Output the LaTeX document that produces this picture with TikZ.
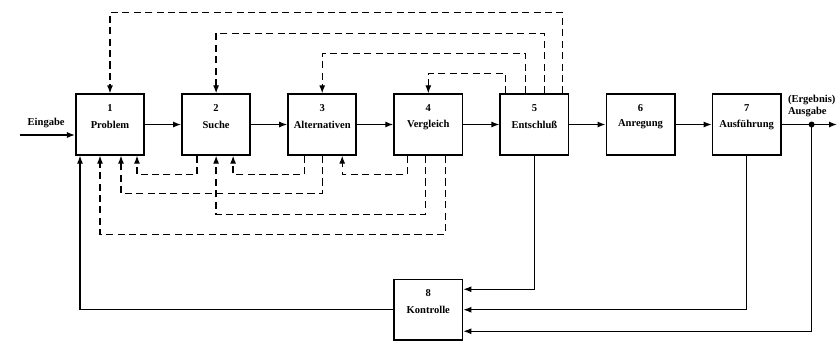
\documentclass[tikz,border=0pt]{standalone}
\usepackage{fontspec}
\setmainfont{Liberation Serif}
\usetikzlibrary{positioning,arrows.meta}

\begin{document}
\begin{tikzpicture}[node distance={7.22mm}, >={Latex[length=1.6mm,width=1.2mm]},
  font=\bfseries\fontsize{6}{7}\selectfont,
  block/.style = {draw, line width=1pt, minimum width=13.65mm, minimum height=12.1mm, inner sep=1pt},
  line/.style = {line width=0.7pt},
  fb/.style = {line width=0.7pt, dash pattern=on 4pt off 2.5pt}]
\useasboundingbox (0,0) rectangle (16.76,-6.8);

\node[block] (n_1) at (2.2,-2.49) {Problem};
\node[block] (n_2) [right=of n_1] {Suche};
\node[block] (n_3) [right=of n_2] {Alternativen};
\node[block] (n_4) [right=of n_3] {Vergleich};
\node[block] (n_5) [right=of n_4] {Entschlu\ss};
\node[block] (n_6) [right=of n_5] {Anregung};
\node[block] (n_7) [right=of n_6] {Ausf\"uhrung};
\node[block] (n_8) [below=24.6mm of n_4] {Kontrolle};
\foreach \i in {1,...,8}
  \node[inner sep=0pt] (z_\i) [below=2.1mm of n_\i.north] {\i};

% Eingang und Ausgang
\coordinate (ein) at ([xshift=-11mm,yshift=-2.1mm]n_1.west);
\draw[line,->] (ein) -- (ein -| n_1.west);
\node[anchor=west] (eingabe) at ([xshift=0.3mm,yshift=2.4mm]ein) {Eingabe};
\coordinate (knoten) at ([xshift=6mm]n_7.east);
\coordinate (aus) at (16.74,0 |- n_7.east);
\draw[line,->] (n_7) -- (aus);
\fill (knoten) circle (0.6mm);
\node[anchor=west, align=left, inner sep=0pt] (ausgabe) at ([xshift=1.2mm,yshift=3.7mm]n_7.east) {(Ergebnis)\\Ausgabe};

% Hauptkette
\draw[line,->] (n_1) -- (n_2);
\draw[line,->] (n_2) -- (n_3);
\draw[line,->] (n_3) -- (n_4);
\draw[line,->] (n_4) -- (n_5);
\draw[line,->] (n_5) -- (n_6);
\draw[line,->] (n_6) -- (n_7);

% Rueckkopplung oben
\draw[fb,->] ([xshift=12.6mm]n_5.north west) -- ++(0,16.2mm) -| (n_1.north);
\draw[fb,->] ([xshift=9mm]n_5.north west) -- ++(0,12mm) -| (n_2.north);
\draw[fb,->] ([xshift=5.2mm]n_5.north west) -- ++(0,8mm) -| (n_3.north);
\draw[fb,->] ([xshift=1.2mm]n_5.north west) -- ++(0,4mm) -| (n_4.north);

% Rueckkopplung unten
\draw[fb,->] ([xshift=3.2mm]n_2.south west) -- ++(0,-3.8mm) -| ([xshift=12.4mm]n_1.south west);
\draw[fb,->] ([xshift=3.4mm]n_3.south west) -- ++(0,-3.8mm) -| ([xshift=10.4mm]n_2.south west);
\draw[fb,->] ([xshift=2.8mm]n_4.south west) -- ++(0,-3.8mm) -| ([xshift=11mm]n_3.south west);
\draw[fb,->] ([xshift=7mm]n_3.south west) -- ++(0,-7.6mm) -| ([xshift=9.2mm]n_1.south west);
\draw[fb,->] ([xshift=6.4mm]n_4.south west) -- ++(0,-11.8mm) -| (n_2.south);
\draw[fb,->] ([xshift=10.4mm]n_4.south west) -- ++(0,-15.8mm) -| ([xshift=5mm]n_1.south west);

% Kontrolle
\draw[line,->] (n_5.south) |- ([yshift=4.1mm]n_8.east);
\draw[line,->] (n_7.south) |- (n_8.east);
\draw[line,->] (knoten) |- ([yshift=-4.3mm]n_8.east);
\draw[line,->] (n_8.west) -| ([xshift=1mm]n_1.south west);
\end{tikzpicture}
\end{document}
